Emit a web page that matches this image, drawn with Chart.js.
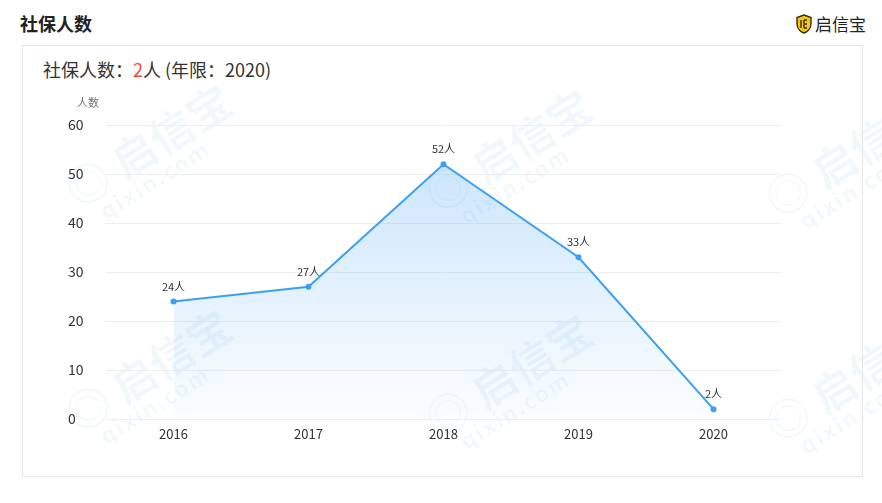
<!DOCTYPE html>
<html>
<head>
<meta charset="utf-8">
<script src="https://cdn.jsdelivr.net/npm/chart.js@4/dist/chart.umd.min.js"></script>
<style>
  html,body{margin:0;padding:0;background:#fff;}
  body{width:882px;height:503px;position:relative;overflow:hidden;font-family:"Noto Sans CJK SC","Noto Sans",sans-serif;}
  .wm{position:absolute;color:rgba(40,130,230,0.06);font-weight:bold;transform:rotate(-32deg);white-space:nowrap;pointer-events:none;line-height:1;}
  .wm .big{font-size:44px;display:block;}
  .wm .small{font-size:22px;display:block;margin-left:18px;letter-spacing:2px;}
  #title{position:absolute;left:20px;top:10px;font-size:18px;font-weight:bold;color:#222;}
  #logo{position:absolute;left:796px;top:11px;display:flex;align-items:center;font-size:17px;color:#222;}
  #panel{position:absolute;left:22px;top:45px;width:841px;height:432px;border:1px solid #e6e6e6;box-sizing:border-box;}
  #sub{position:absolute;left:43px;top:56px;font-size:18px;color:#333;}
  #sub .red{color:#f04b3c;}
  #c{position:absolute;left:0;top:0;}
</style>
</head>
<body>
<div class="wm" style="left:60px;top:120px;"><span class="big">◎ 启信宝</span><span class="small">qixin.com</span></div>
<div class="wm" style="left:420px;top:125px;"><span class="big">◎ 启信宝</span><span class="small">qixin.com</span></div>
<div class="wm" style="left:760px;top:130px;"><span class="big">◎ 启信宝</span><span class="small">qixin.com</span></div>
<div class="wm" style="left:60px;top:345px;"><span class="big">◎ 启信宝</span><span class="small">qixin.com</span></div>
<div class="wm" style="left:420px;top:350px;"><span class="big">◎ 启信宝</span><span class="small">qixin.com</span></div>
<div class="wm" style="left:760px;top:355px;"><span class="big">◎ 启信宝</span><span class="small">qixin.com</span></div>
<div id="panel"></div>
<div id="title">社保人数</div>
<div id="logo">
  <svg width="16" height="20" viewBox="0 0 16 20" style="margin-right:3px">
    <path d="M8 1 L15 3.5 L15 10 C15 15 11 18 8 19 C5 18 1 15 1 10 L1 3.5 Z" fill="#f5c51a" stroke="#3a2d00" stroke-width="1.4"/>
    <path d="M5 6 L5 14 M8 6 L11 6 M8 10 L11 10 M8 14 L11 14 M8 6 L8 14" stroke="#3a2d00" stroke-width="1.4" fill="none"/>
  </svg>启信宝
</div>
<div id="sub">社保人数：<span class="red">2</span>人 (年限：2020)</div>
<canvas id="c" width="882" height="503"></canvas>
<script>
const categories = ["2016", "2017", "2018", "2019", "2020"];
const values = [24, 27, 52, 33, 2];
const unit = "人";
const yTicks = [0, 10, 20, 30, 40, 50, 60];
const yAxisName = "人数";

const lineColor = "#3d9ff3";
const FONT = '"Noto Sans CJK SC","Noto Sans",sans-serif';

const labelPlugin = {
  id: "pointLabels",
  afterDatasetsDraw(chart) {
    const ctx = chart.ctx;
    const meta = chart.getDatasetMeta(0);
    ctx.save();
    ctx.font = "11px " + FONT;
    ctx.fillStyle = "#333";
    ctx.textAlign = "center";
    ctx.textBaseline = "middle";
    meta.data.forEach((pt, i) => {
      ctx.fillText(values[i] + unit, pt.x, pt.y - 15);
    });
    ctx.fillStyle = "#6e7079";
    ctx.fillText(yAxisName, 88, chart.chartArea.top - 22);
    ctx.restore();
  }
};

new Chart(document.getElementById("c"), {
  type: "line",
  data: {
    labels: categories,
    datasets: [{
      data: values,
      borderColor: lineColor,
      borderWidth: 2,
      pointRadius: 3,
      pointBackgroundColor: lineColor,
      pointBorderColor: lineColor,
      pointBorderWidth: 0,
      tension: 0,
      fill: "origin",
      backgroundColor(context) {
        const ca = context.chart.chartArea;
        if (!ca) return "rgba(61,159,243,0.2)";
        const g = context.chart.ctx.createLinearGradient(0, ca.top + 40, 0, ca.bottom);
        g.addColorStop(0, "rgba(61,159,243,0.26)");
        g.addColorStop(1, "rgba(61,159,243,0.02)");
        return g;
      }
    }]
  },
  options: {
    responsive: false,
    animation: false,
    layout: { padding: { left: 68, right: 101, top: 125, bottom: 54 } },
    plugins: { legend: { display: false }, tooltip: { enabled: false } },
    scales: {
      x: {
        offset: true,
        grid: { display: false, drawTicks: false },
        border: { display: false },
        ticks: { color: "#333", font: { size: 13, family: FONT }, padding: 7 },
        afterFit(s) { s.height = 30; }
      },
      y: {
        min: 0, max: 60,
        afterBuildTicks(s) { s.ticks = yTicks.map(v => ({ value: v })); },
        grid: { color: "#eeeeee", drawTicks: false },
        border: { display: false },
        ticks: { color: "#333", font: { size: 14, family: FONT }, crossAlign: "far", padding: 0 },
        afterFit(s) { s.width = 38; }
      }
    }
  },
  plugins: [labelPlugin]
});
</script>
</body>
</html>
